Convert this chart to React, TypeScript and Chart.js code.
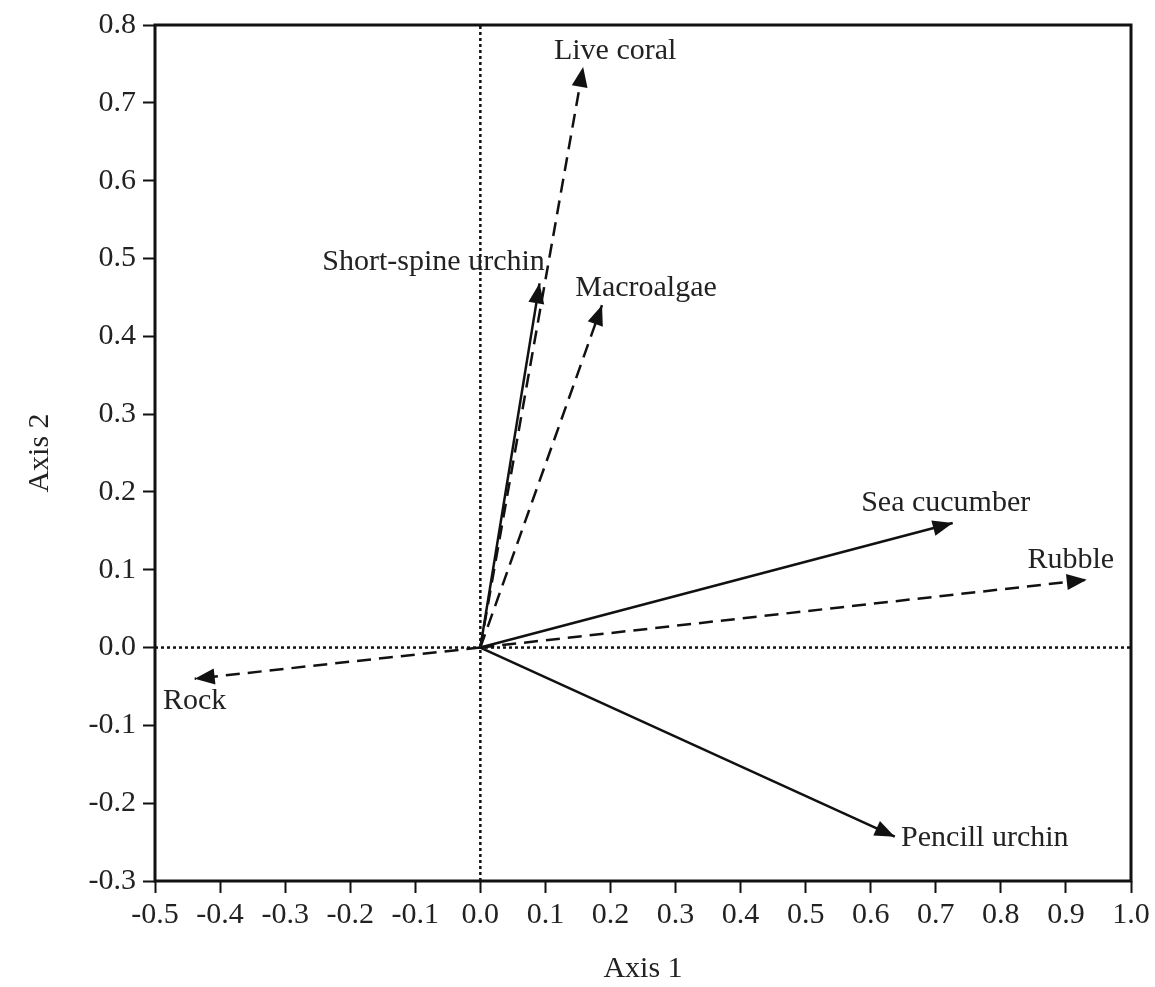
import React, { useEffect, useRef } from "react";
import { Chart, registerables } from "chart.js";

Chart.register(...registerables);

// ---- data ----
const variables = ["Live coral", "Short-spine urchin", "Macroalgae", "Sea cucumber", "Rubble", "Rock", "Pencill urchin"];
const axis1Values = [0.158, 0.091, 0.187, 0.726, 0.932, -0.439, 0.637];
const axis2Values = [0.746, 0.468, 0.44, 0.16, 0.087, -0.04, -0.243];
const isDashed = [true, false, true, false, true, true, false];
const xTickValues = [-0.5, -0.4, -0.3, -0.2, -0.1, 0.0, 0.1, 0.2, 0.3, 0.4, 0.5, 0.6, 0.7, 0.8, 0.9, 1.0];
const yTickValues = [-0.3, -0.2, -0.1, 0.0, 0.1, 0.2, 0.3, 0.4, 0.5, 0.6, 0.7, 0.8];
const xAxisTitle = "Axis 1";
const yAxisTitle = "Axis 2";

// ---- label placement (pixel offsets from arrow tip, centre of text) ----
const labelOffsets: [number, number][] = [
  [32, -16],
  [-106, -21],
  [44, -17],
  [-7, -20],
  [-16, -20],
  [0, 22],
  [90, 1],
];

const FONT = "'Liberation Serif', 'Times New Roman', serif";
const FS = 30;

const fmt = (v: number) => (Math.abs(v) < 1e-9 ? "0.0" : v.toFixed(1));

const arrowPlugin = {
  id: "arrowsAndLabels",
  afterDatasetsDraw(chart: any) {
    const ctx = chart.ctx;
    const xs = chart.scales.x;
    const ys = chart.scales.y;
    const ox = xs.getPixelForValue(0);
    const oy = ys.getPixelForValue(0);
    ctx.save();
    for (let i = 0; i < variables.length; i++) {
      const px = xs.getPixelForValue(axis1Values[i]);
      const py = ys.getPixelForValue(axis2Values[i]);
      const ang = Math.atan2(py - oy, px - ox);
      const L = 20;
      const W = 8;
      ctx.beginPath();
      ctx.moveTo(px, py);
      ctx.lineTo(px - L * Math.cos(ang) + W * Math.sin(ang), py - L * Math.sin(ang) - W * Math.cos(ang));
      ctx.lineTo(px - L * Math.cos(ang) - W * Math.sin(ang), py - L * Math.sin(ang) + W * Math.cos(ang));
      ctx.closePath();
      ctx.fillStyle = "#111";
      ctx.fill();
      ctx.font = `${FS}px ${FONT}`;
      ctx.fillStyle = "#222";
      ctx.textAlign = "center";
      ctx.textBaseline = "middle";
      ctx.fillText(variables[i], px + labelOffsets[i][0], py + labelOffsets[i][1]);
    }
    // frame
    const a = chart.chartArea;
    ctx.lineWidth = 3;
    ctx.strokeStyle = "#111";
    ctx.setLineDash([]);
    ctx.strokeRect(a.left, a.top, a.right - a.left, a.bottom - a.top);
    ctx.restore();
  },
};

export default function App() {
  const ref = useRef<HTMLCanvasElement>(null);
  useEffect(() => {
    if (!ref.current) return;
    const datasets: any[] = [
      {
        data: [
          { x: xTickValues[0], y: 0 },
          { x: xTickValues[xTickValues.length - 1], y: 0 },
        ],
        borderColor: "#111",
        borderWidth: 2.5,
        borderDash: [3, 3],
        showLine: true,
        pointRadius: 0,
      },
      {
        data: [
          { x: 0, y: yTickValues[0] },
          { x: 0, y: yTickValues[yTickValues.length - 1] },
        ],
        borderColor: "#111",
        borderWidth: 2.5,
        borderDash: [3, 3],
        showLine: true,
        pointRadius: 0,
      },
    ];
    variables.forEach((_, i) => {
      datasets.push({
        data: [
          { x: 0, y: 0 },
          { x: axis1Values[i], y: axis2Values[i] },
        ],
        borderColor: "#111",
        borderWidth: 2.5,
        borderDash: isDashed[i] ? [14, 8] : [],
        showLine: true,
        pointRadius: 0,
      });
    });
    const tickFont = { family: FONT, size: FS };
    const chart = new Chart(ref.current, {
      type: "scatter",
      data: { datasets },
      plugins: [arrowPlugin],
      options: {
        animation: false,
        responsive: true,
        maintainAspectRatio: false,
        layout: { padding: { top: 25, right: 24, left: 0, bottom: 0 } },
        plugins: { legend: { display: false }, tooltip: { enabled: false } },
        scales: {
          x: {
            type: "linear",
            min: xTickValues[0],
            max: xTickValues[xTickValues.length - 1],
            afterBuildTicks: (s: any) => {
              s.ticks = xTickValues.map((v) => ({ value: v }));
            },
            afterFit: (s: any) => {
              s.height = 106;
            },
            ticks: { color: "#222", font: tickFont, padding: 4, callback: (v: any) => fmt(Number(v)), maxRotation: 0, autoSkip: false },
            grid: { drawOnChartArea: false, tickLength: 12, tickWidth: 2, tickColor: "#111" },
            border: { display: false },
            title: { display: true, text: xAxisTitle, color: "#222", font: tickFont, padding: { top: 0, bottom: 0 } },
          },
          y: {
            type: "linear",
            min: yTickValues[0],
            max: yTickValues[yTickValues.length - 1],
            afterBuildTicks: (s: any) => {
              s.ticks = yTickValues.map((v) => ({ value: v }));
            },
            afterFit: (s: any) => {
              s.width = 155;
            },
            ticks: { color: "#222", font: tickFont, padding: 7, callback: (v: any) => fmt(Number(v)), autoSkip: false },
            grid: { drawOnChartArea: false, tickLength: 12, tickWidth: 2, tickColor: "#111" },
            border: { display: false },
            title: { display: true, text: yAxisTitle, color: "#222", font: tickFont, padding: { top: 22, bottom: 0 } },
          },
        },
      },
    } as any);
    return () => chart.destroy();
  }, []);
  return (
    <div style={{ position: "absolute", left: 0, top: 0, width: 1155, height: 987, background: "#fff" }}>
      <canvas ref={ref} />
    </div>
  );
}
